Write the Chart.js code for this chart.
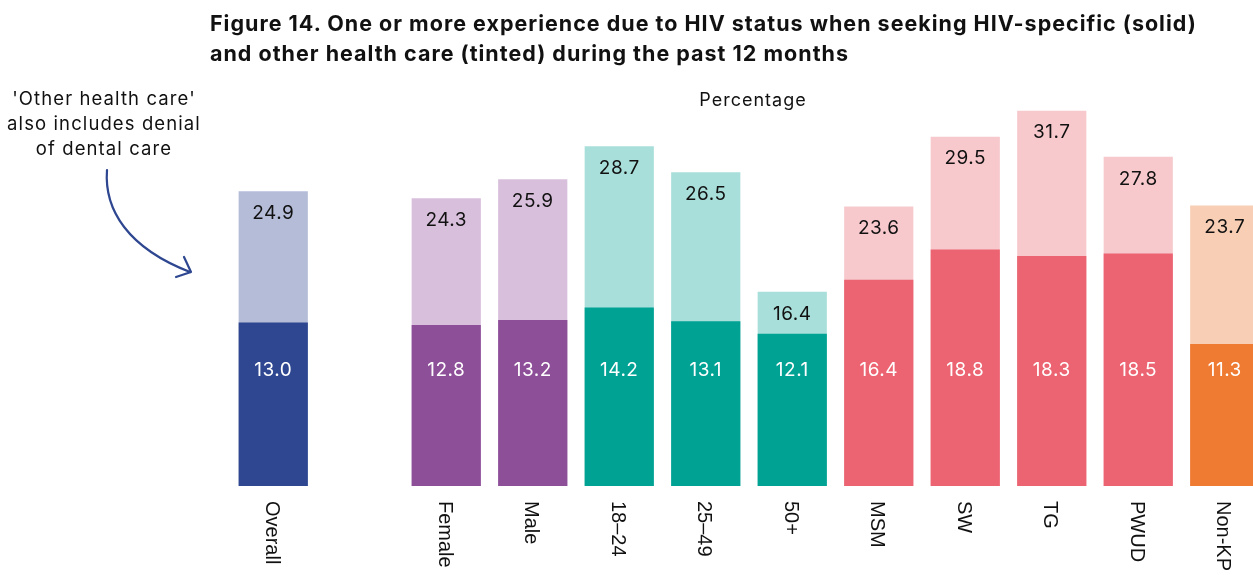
<!DOCTYPE html>
<html>
<head>
<meta charset="utf-8">
<script src="https://cdn.jsdelivr.net/npm/chart.js@4.4.1/dist/chart.umd.min.js"></script>
<style>
    html, body { margin: 0; padding: 0; background: #fff; overflow: hidden; }
    .frame { position: relative; width: 1253px; height: 575px; overflow: hidden; }
    .frame canvas { position: absolute; left: 0; top: 0; }
    .title { position: absolute; left: 210px; top: 8px; font: 700 21.5px Inter, sans-serif; letter-spacing: 1px; line-height: 30px; color: #111; white-space: nowrap; }
    .axis-title { position: absolute; left: 653px; width: 200px; top: 89px; text-align: center; font: 400 18px Inter, sans-serif; letter-spacing: 1px; color: #111; }
    .note { position: absolute; left: 0; width: 208px; top: 86px; text-align: center; font: 400 18.5px Inter, sans-serif; letter-spacing: 1.1px; line-height: 25px; color: #111; white-space: nowrap; }
    .arrow { position: absolute; left: 0; top: 0; }
</style>
</head>
<body>
<div class="frame">
    <canvas id="app-chart" width="1280" height="575"></canvas>
    <div class="title">Figure 14. One or more experience due to HIV status when seeking HIV-specific (solid)<br>and other health care (tinted) during the past 12 months</div>
    <div class="axis-title">Percentage</div>
    <div class="note">'Other health care'<br>also includes denial<br>of dental care</div>
    <svg class="arrow" width="260" height="300">
        <path d="M107,170 C104,210 128,248 190,272" fill="none" stroke="#2E4790" stroke-width="2.2" stroke-linecap="round"/>
        <path d="M184,257 L191,272 L176,277" fill="none" stroke="#2E4790" stroke-width="2.2" stroke-linecap="round" stroke-linejoin="round"/>
    </svg>
</div>
<script>
//======================================================================================================================
// Data
//======================================================================================================================

    var categories   = ['Overall', '', 'Female', 'Male', '18–24', '25–49', '50+', 'MSM', 'SW', 'TG', 'PWUD', 'Non-KP'];
    var hivSpecific  = [13.0, null, 12.8, 13.2, 14.2, 13.1, 12.1, 16.4, 18.8, 18.3, 18.5, 11.3];
    var otherCare    = [24.9, null, 24.3, 25.9, 28.7, 26.5, 16.4, 23.6, 29.5, 31.7, 27.8, 23.7];
    var solidColours = ['#2E4790', null, '#8E4F99', '#8E4F99', '#00A294', '#00A294', '#00A294', '#EC6472', '#EC6472', '#EC6472', '#EC6472', '#EF7A31'];
    var tintColours  = ['#B4BCD8', null, '#D8BFDC', '#D8BFDC', '#A8DFDA', '#A8DFDA', '#A8DFDA', '#F7C9CD', '#F7C9CD', '#F7C9CD', '#F7C9CD', '#F8CFB4'];

    // solid values are printed on one common level of the HIV-specific axis
    var solidLabelLevel = 9.2;

//======================================================================================================================
// Labels plugin
//======================================================================================================================

    var labelsPlugin = {
        id: 'barLabels',
        afterDatasetsDraw: function(chart) {
            var ctx = chart.ctx;
            var x = chart.scales.x;
            var yHiv = chart.scales.yHiv;
            var tintMeta = chart.getDatasetMeta(0);
            var solidMeta = chart.getDatasetMeta(1);

            ctx.save();
            ctx.textAlign = 'center';
            ctx.textBaseline = 'middle';
            ctx.font = '19px Inter, sans-serif';
            ctx.letterSpacing = '0.5px';

            tintMeta.data.forEach(function(bar, i) {
                if (otherCare[i] == null) return;
                ctx.fillStyle = '#111';
                ctx.fillText(otherCare[i].toFixed(1), bar.x, bar.y + 22);
            });

            solidMeta.data.forEach(function(bar, i) {
                if (hivSpecific[i] == null) return;
                ctx.fillStyle = '#fff';
                ctx.fillText(hivSpecific[i].toFixed(1), bar.x, yHiv.getPixelForValue(solidLabelLevel));
            });

            // category names, turned to read from top to bottom
            ctx.font = '20px "Liberation Sans", Arial, sans-serif';
            ctx.letterSpacing = '0px';
            ctx.fillStyle = '#111';
            ctx.textAlign = 'left';
            categories.forEach(function(name, i) {
                if (!name) return;
                ctx.save();
                ctx.translate(x.getPixelForValue(i) - 2, chart.chartArea.bottom + 15);
                ctx.rotate(Math.PI / 2);
                ctx.fillText(name, 0, 0);
                ctx.restore();
            });

            ctx.restore();
        }
    };

//======================================================================================================================
// Chart
//======================================================================================================================

    new Chart(document.getElementById('app-chart'), {
        type: 'bar',
        plugins: [labelsPlugin],
        data: {
            labels: categories,
            datasets: [{
                label: 'Other health care',
                data: otherCare,
                backgroundColor: tintColours,
                yAxisID: 'yOther',
                grouped: false,
                order: 2
            }, {
                label: 'HIV-specific',
                data: hivSpecific,
                backgroundColor: solidColours,
                yAxisID: 'yHiv',
                grouped: false,
                order: 1
            }]
        },
        options: {
            responsive: false,
            animation: false,
            devicePixelRatio: 1,
            barPercentage: 0.8,
            categoryPercentage: 1,
            layout: {
                padding: { left: 230, right: 12, top: 100, bottom: 89 }
            },
            plugins: {
                legend: { display: false },
                tooltip: { enabled: false }
            },
            scales: {
                x: { display: false },
                yOther: { display: false, min: 0, max: 32.6 },
                yHiv: { display: false, min: 0, max: 30.7 }
            }
        }
    });
</script>
</body>
</html>
